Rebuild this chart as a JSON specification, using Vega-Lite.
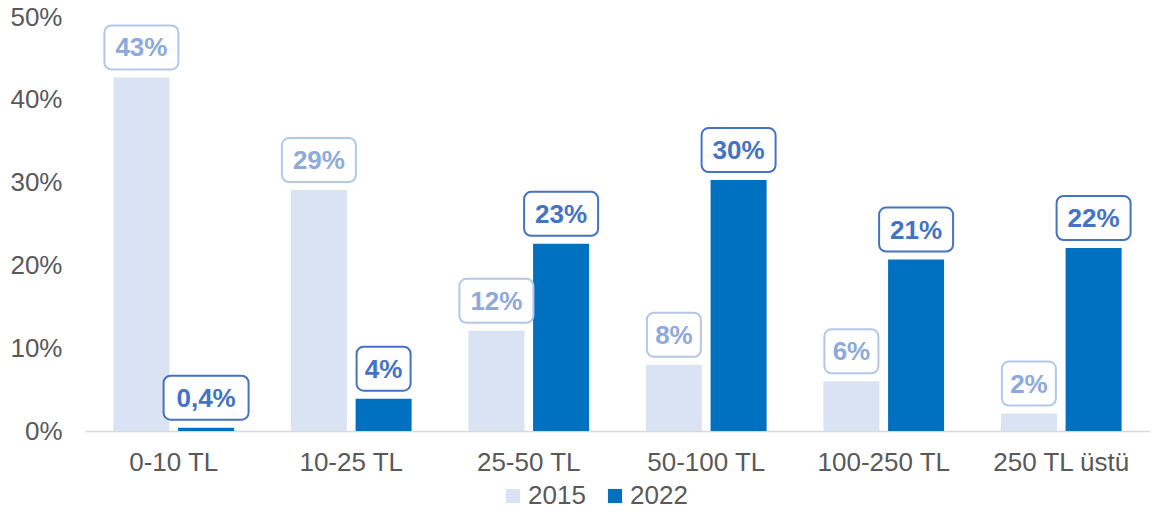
{
  "$schema": "https://vega.github.io/schema/vega-lite/v6.json",
  "width": 1065,
  "height": 414,
  "autosize": {"type": "none"},
  "padding": {"left": 85, "top": 17, "right": 2, "bottom": 83},
  "background": "white",
  "config": {
    "view": {"stroke": null},
    "font": "Liberation Sans"
  },
  "data": {
    "values": [
      {"cat": "0-10 TL", "year": "2015", "value": 42.7, "label": "43%"},
      {"cat": "0-10 TL", "year": "2022", "value": 0.4, "label": "0,4%"},
      {"cat": "10-25 TL", "year": "2015", "value": 29.1, "label": "29%"},
      {"cat": "10-25 TL", "year": "2022", "value": 3.9, "label": "4%"},
      {"cat": "25-50 TL", "year": "2015", "value": 12.1, "label": "12%"},
      {"cat": "25-50 TL", "year": "2022", "value": 22.6, "label": "23%"},
      {"cat": "50-100 TL", "year": "2015", "value": 8.0, "label": "8%"},
      {"cat": "50-100 TL", "year": "2022", "value": 30.3, "label": "30%"},
      {"cat": "100-250 TL", "year": "2015", "value": 6.0, "label": "6%"},
      {"cat": "100-250 TL", "year": "2022", "value": 20.7, "label": "21%"},
      {"cat": "250 TL üstü", "year": "2015", "value": 2.1, "label": "2%"},
      {"cat": "250 TL üstü", "year": "2022", "value": 22.1, "label": "22%"}
    ]
  },
  "transform": [{"calculate": "length(datum.label)", "as": "n"}],
  "encoding": {
    "x": {
      "field": "cat", "type": "nominal", "sort": null, "title": null,
      "scale": {"paddingInner": 0.32, "paddingOuter": 0.16},
      "axis": {"labelAngle": 0, "labelFontSize": 26, "labelColor": "#595959", "ticks": false, "domainColor": "#D9D9D9", "domainWidth": 1.5, "labelPadding": 18}
    },
    "xOffset": {"field": "year", "type": "nominal", "scale": {"paddingInner": 0.134, "paddingOuter": 0}},
    "y": {
      "field": "value", "type": "quantitative", "title": null,
      "scale": {"domain": [0, 50], "nice": false},
      "axis": {"values": [0, 10, 20, 30, 40, 50], "labelExpr": "datum.value + '%'", "grid": false, "ticks": false, "domain": false, "labelFontSize": 26, "labelColor": "#595959", "labelPadding": 23}
    }
  },
  "resolve": {"scale": {"color": "independent"}},
  "layer": [
    {
      "mark": {"type": "bar"},
      "encoding": {
        "color": {
          "field": "year", "type": "nominal",
          "scale": {"domain": ["2015", "2022"], "range": ["#DAE3F3", "#0070C0"]},
          "legend": {"title": null, "orient": "none", "direction": "horizontal", "legendX": 415, "legendY": 466, "symbolType": "square", "symbolSize": 200, "labelFontSize": 26, "labelColor": "#595959", "labelOffset": 2, "columnPadding": 16, "symbolStrokeWidth": 0}
        }
      }
    },
    {
      "mark": {"type": "bar", "fill": "white", "strokeWidth": 2, "cornerRadius": 7, "yOffset": -52, "y2Offset": -8},
      "encoding": {
        "y2": {"field": "value"},
        "size": {"field": "n", "type": "quantitative", "legend": null, "scale": {"domain": [2, 3, 4], "range": [54, 74, 85]}},
        "stroke": {"field": "year", "type": "nominal", "legend": null, "scale": {"domain": ["2015", "2022"], "range": ["#B4C7E7", "#4472C4"]}}
      }
    },
    {
      "mark": {"type": "text", "fontSize": 26, "fontWeight": "bold", "baseline": "middle", "align": "center", "yOffset": -29},
      "encoding": {
        "text": {"field": "label"},
        "color": {"field": "year", "type": "nominal", "legend": null, "scale": {"domain": ["2015", "2022"], "range": ["#8EA9DB", "#4472C4"]}}
      }
    }
  ]
}
